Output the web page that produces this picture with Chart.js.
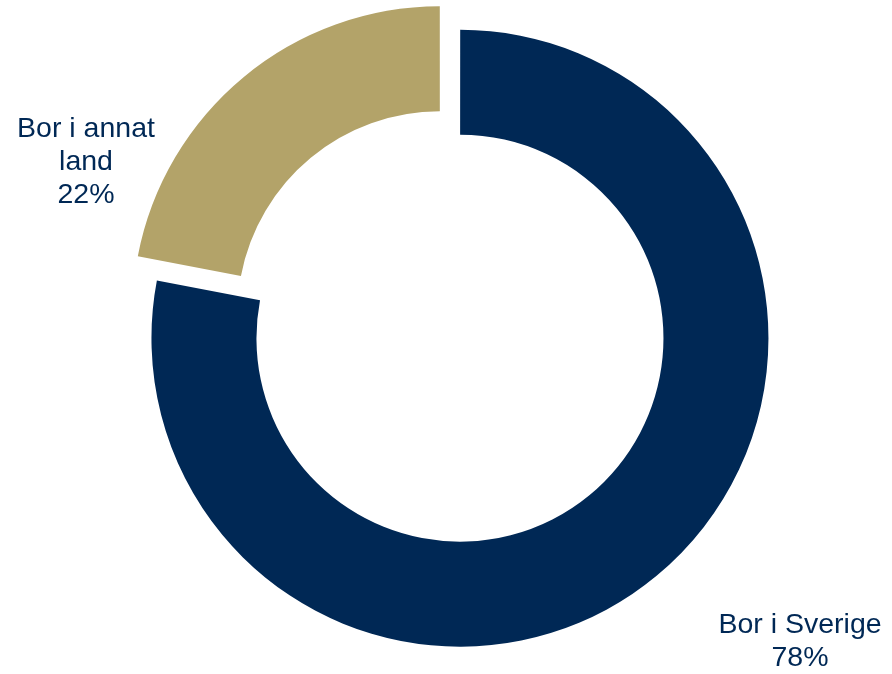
<!DOCTYPE html>
<html>
<head>
<meta charset="utf-8">
<script src="https://cdn.jsdelivr.net/npm/chart.js@4/dist/chart.umd.min.js"></script>
<style>
html,body{margin:0;padding:0;background:#ffffff;}
#wrap{width:892px;height:674px;position:relative;}
</style>
</head>
<body>
<div id="wrap"><canvas id="c" width="892" height="674"></canvas></div>
<script>
const categories = ['Bor i Sverige', 'Bor i annat land'];
const values = [78, 22];
const labelLines = [['Bor i Sverige'], ['Bor i annat', 'land']];
const colors = ['#002855', '#B3A369'];

const labelPlugin = {
  id: 'outLabels',
  afterDraw(chart) {
    const ctx = chart.ctx;
    const pos = [ {x: 800, y: 633}, {x: 86, y: 137} ];
    ctx.save();
    ctx.fillStyle = '#002855';
    ctx.font = '28.5px "Liberation Sans", Arial, sans-serif';
    ctx.textAlign = 'center';
    ctx.textBaseline = 'alphabetic';
    const lh = 33;
    values.forEach((v, i) => {
      const lines = labelLines[i].concat([v + '%']);
      lines.forEach((t, j) => ctx.fillText(t, pos[i].x, pos[i].y + j * lh));
    });
    ctx.restore();
  }
};

new Chart(document.getElementById('c'), {
  type: 'doughnut',
  data: {
    labels: categories,
    datasets: [{
      data: values,
      backgroundColor: colors,
      hoverBackgroundColor: colors,
      borderWidth: 0,
      offset: [6, 120],
      hoverOffset: 0
    }]
  },
  options: {
    responsive: false,
    animation: false,
    radius: 307,
    cutout: '65.8%',
    layout: { padding: { left: 26, right: 0, top: 0, bottom: 0 } },
    plugins: { legend: { display: false }, tooltip: { enabled: false } }
  },
  plugins: [labelPlugin]
});
</script>
</body>
</html>
